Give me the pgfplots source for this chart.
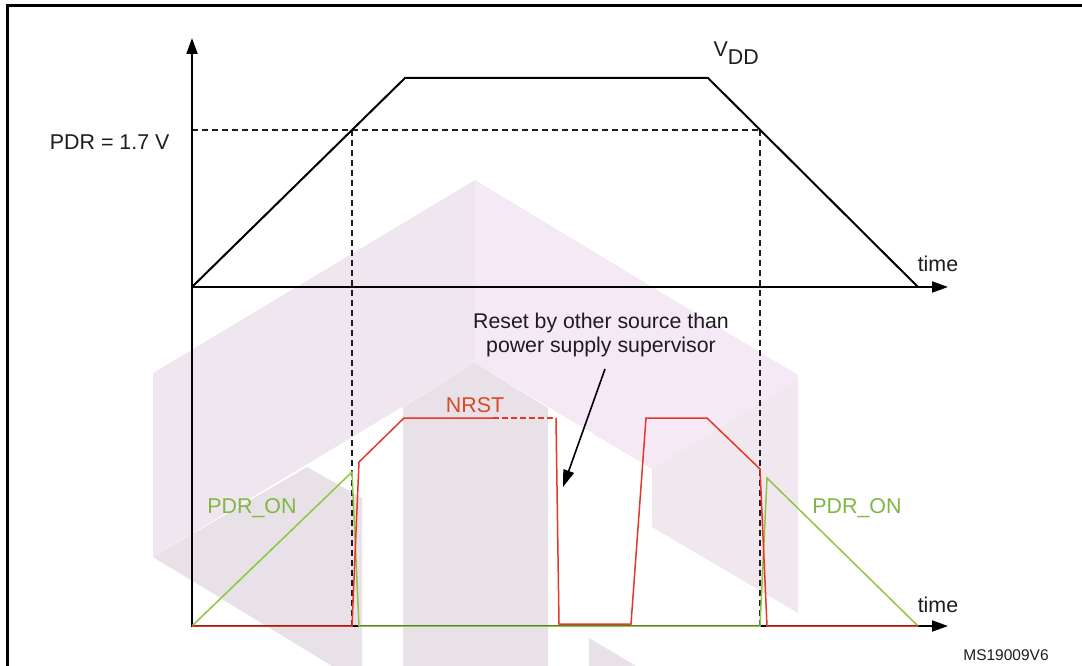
\documentclass[border=0pt]{standalone}
\usepackage{pgfplots}
\pgfplotsset{compat=1.18}
\usetikzlibrary{arrows.meta}
\usepackage{fontspec}
\setmainfont{Liberation Sans}
\definecolor{wmA}{RGB}{240,230,239}
\definecolor{wmB}{RGB}{245,233,245}
\definecolor{wmC}{RGB}{232,226,232}
\definecolor{wmD}{RGB}{241,231,239}
\definecolor{sigred}{RGB}{230,55,40}
\definecolor{txtred}{RGB}{218,72,42}
\definecolor{siggreen}{RGB}{141,198,63}
\definecolor{txtgreen}{RGB}{128,182,66}
\definecolor{ink}{RGB}{30,28,30}
\begin{document}
\begin{tikzpicture}
\begin{axis}[
  width=1082pt, height=666pt, scale only axis,
  xmin=0, xmax=1082, ymin=0, ymax=666, y dir=reverse,
  hide axis, no markers,
  every axis plot/.append style={line join=miter},
]
\path (axis cs:0,0) rectangle (axis cs:1082,666);
% ---- watermark ----
\addplot[fill=wmA, draw=none] coordinates {(153,373)(475,180)(475,363)(153,557)} -- cycle;
\addplot[fill=wmB, draw=none] coordinates {(475,180)(798,375)(798,380)(652,469)(475,363)} -- cycle;
\addplot[fill=wmC, draw=none] coordinates {(153,557)(307,467)(362,498)(362,666)(332,666)} -- cycle;
\addplot[fill=wmC, draw=none] coordinates {(403,407)(475,363)(548,408)(548,666)(403,666)} -- cycle;
\addplot[fill=wmD, draw=none] coordinates {(652,469)(798,380)(798,613)(652,527)} -- cycle;
\addplot[fill=wmC, draw=none] coordinates {(589,638)(636,666)(589,666)} -- cycle;
% ---- frame ----
\addplot[black, line width=2.8pt] coordinates {(7.5,666)(7.5,5.5)(1082,5.5)};
% ---- dashed guides ----
\addplot[ink, line width=1.3pt, dash pattern=on 6pt off 4pt] coordinates {(192,130)(760,130)};
\addplot[ink, line width=1.4pt, dash pattern=on 6pt off 4pt] coordinates {(352,130)(352,626)};
\addplot[ink, line width=1.4pt, dash pattern=on 6pt off 4pt] coordinates {(760,130)(760,626)};
% ---- axes ----
\addplot[black, line width=1.9pt, -{Triangle[length=16pt,width=11pt]}] coordinates {(192,627)(192,38)};
\addplot[black, line width=1.9pt, -{Triangle[length=16pt,width=11pt]}] coordinates {(192,287)(948,287)};
\addplot[black, line width=1.9pt, -{Triangle[length=16pt,width=11pt]}] coordinates {(192,626)(948,626)};
% ---- VDD ----
\addplot[black, line width=2pt] coordinates {(192,287)(405,78)(708,78)(918,287)};
% ---- PDR_ON ----
\addplot[siggreen, line width=1.5pt] coordinates {(192,626)(352,472)(359,626)(760,626)(767,478)(918,626)};
% ---- NRST ----
\addplot[sigred, line width=1.5pt] coordinates {(192,626)(352,626)(359,462)(404,418)(493,418)};
\addplot[sigred, line width=1.5pt, dash pattern=on 6pt off 3pt] coordinates {(493,418)(556,418)};
\addplot[sigred, line width=1.5pt] coordinates {(556,418)(559,624)(631,624)(646,418)(707,418)(760,469)(767,626)(918,626)};
% ---- annotation arrow ----
\draw[black, line width=1.6pt, -{Triangle[length=17pt,width=11pt]}] (axis cs:605,369) -- (axis cs:563,487);
% ---- labels ----
\node[anchor=east, text=ink, font=\fontsize{21.4}{25}\selectfont] at (axis cs:173,142) {PDR = 1.7 V};
\node[anchor=base west, text=ink, font=\fontsize{21.4}{25}\selectfont] at (axis cs:710,57) {V\raisebox{-0.35em}{DD}};
\node[text=ink, font=\fontsize{21.4}{25}\selectfont] at (axis cs:938,264) {time};
\node[text=ink, font=\fontsize{21.4}{25}\selectfont] at (axis cs:938,605) {time};
\node[text=ink, align=center, font=\fontsize{21.3}{24}\selectfont] at (axis cs:601,335) {Reset by other source than\\power supply supervisor};
\node[anchor=base, text=txtred, font=\fontsize{21.4}{25}\selectfont] at (axis cs:475,412) {NRST};
\node[anchor=base, text=txtgreen, font=\fontsize{21.4}{25}\selectfont] at (axis cs:252,513) {PDR\_ON};
\node[anchor=base, text=txtgreen, font=\fontsize{21.4}{25}\selectfont] at (axis cs:857,513) {PDR\_ON};
\node[anchor=base, text=ink, font=\fontsize{15.5}{18}\selectfont] at (axis cs:1006,660) {MS19009V6};
\end{axis}
\end{tikzpicture}
\end{document}
